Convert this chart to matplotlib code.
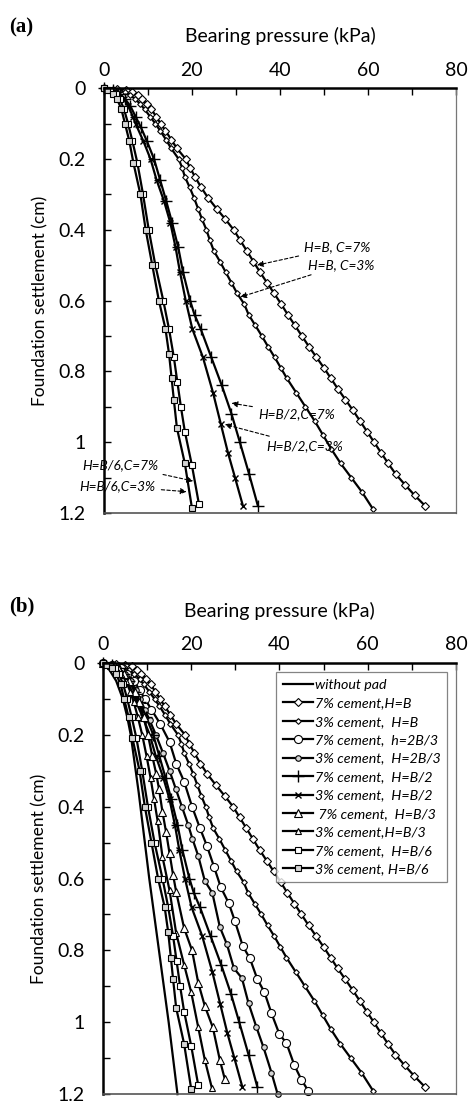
import matplotlib
matplotlib.use("Agg")
import matplotlib.pyplot as plt
from matplotlib.ticker import MultipleLocator

plt.rcParams['font.family'] = ['Lato', 'DejaVu Sans']

# settlement (cm) / bearing pressure (kPa)
s_d7 = [0, 0.003, 0.006, 0.01, 0.02, 0.03, 0.045, 0.06, 0.08, 0.1, 0.12, 0.145, 0.17, 0.2, 0.225,
        0.25, 0.28, 0.31, 0.34, 0.37, 0.4, 0.43, 0.46, 0.49, 0.52, 0.55, 0.58, 0.61, 0.64, 0.67, 0.7, 0.73,
        0.76, 0.79, 0.82, 0.85, 0.88, 0.91, 0.94, 0.97, 1.0, 1.03, 1.06, 1.09, 1.12, 1.15, 1.18]
p_d7 = [0, 3, 5, 6.5, 7.8, 8.6, 9.8, 10.8, 11.9, 12.9, 14.0, 15.3, 16.6, 18.6, 19.6,
        20.7, 22.1, 23.7, 25.6, 27.6, 29.5, 31.0, 32.5, 34.0, 35.5, 37.1, 38.7, 40.3, 41.8, 43.4, 45.0, 46.6,
        48.3, 50.0, 51.6, 53.2, 54.9, 56.6, 58.2, 59.8, 61.4, 63.0, 64.6, 66.3, 68.4, 70.6, 73.0]

s_d3 = [0, 0.003, 0.007, 0.012, 0.02, 0.03, 0.045, 0.06, 0.08, 0.1, 0.12, 0.145, 0.17, 0.2, 0.225, 0.25,
        0.28, 0.31, 0.34, 0.37, 0.4, 0.43, 0.46, 0.49, 0.52, 0.55, 0.58, 0.61, 0.64, 0.67, 0.7, 0.73, 0.76,
        0.79, 0.82, 0.86, 0.9, 0.94, 0.98, 1.02, 1.06, 1.1, 1.14, 1.19]
p_d3 = [0, 2, 3.5, 4.8, 6, 7.1, 8.3, 9.3, 10.5, 11.7, 12.8, 14.1, 15.3, 17.0, 17.8, 18.4,
        19.5, 20.5, 21.4, 22.3, 23.3, 24.1, 25.0, 26.4, 27.7, 29.0, 30.3, 31.9, 32.9, 34.4, 35.9, 37.3, 38.8,
        40.2, 41.6, 43.7, 45.8, 47.9, 49.8, 51.7, 53.8, 56.2, 58.6, 61.2]

s_c7 = [0, 0.005, 0.015, 0.03, 0.05, 0.075, 0.1, 0.13, 0.17, 0.22, 0.28, 0.33, 0.4, 0.46, 0.51, 0.568,
        0.624, 0.668, 0.718, 0.788, 0.822, 0.88, 0.916, 0.975, 1.033, 1.058, 1.12, 1.16, 1.19]
p_c7 = [0, 2, 4, 5.5, 7, 8.3, 9.5, 11, 13, 15.1, 16.6, 18.4, 20.2, 22, 23.6, 25.2,
        26.7, 28.5, 29.9, 31.7, 33.3, 35, 36.6, 38.2, 40, 41.6, 43.4, 45, 46.5]

s_c3 = [0, 0.005, 0.015, 0.03, 0.05, 0.075, 0.1, 0.13, 0.16, 0.2, 0.25, 0.3, 0.35, 0.4, 0.45, 0.49,
        0.537, 0.607, 0.64, 0.735, 0.783, 0.85, 0.877, 0.947, 1.014, 1.07, 1.14, 1.2]
p_c3 = [0, 1.8, 3.5, 5, 6.3, 7.4, 8.4, 9.5, 10.6, 12, 13.6, 15.1, 16.5, 17.9, 19.3, 20.3,
        21.6, 23.1, 24.8, 26.5, 28.1, 29.7, 31.5, 33, 34.8, 36.4, 38.2, 39.6]

s_p7 = [0, 0.005, 0.015, 0.03, 0.05, 0.08, 0.11, 0.15, 0.2, 0.26, 0.32, 0.38, 0.45, 0.52, 0.6, 0.64,
        0.68, 0.76, 0.84, 0.92, 1.0, 1.09, 1.18]
p_p7 = [0, 2, 3.6, 4.8, 6.0, 7.2, 8.4, 9.8, 11.4, 12.8, 14.2, 15.5, 16.9, 18.0, 19.6, 20.6,
        22.0, 24.4, 26.8, 29.0, 30.9, 33.0, 35.0]

s_x3 = [0, 0.005, 0.015, 0.03, 0.05, 0.08, 0.1, 0.15, 0.2, 0.26, 0.32, 0.38, 0.45, 0.52, 0.6, 0.68,
        0.76, 0.86, 0.95, 1.03, 1.1, 1.18]
p_x3 = [0, 1.8, 3.3, 4.5, 5.5, 6.6, 7.2, 9.0, 10.6, 12.0, 13.7, 15.1, 16.3, 17.3, 18.6, 20.1,
        22.5, 24.8, 26.6, 28.2, 29.8, 31.6]

s_t7 = [0, 0.005, 0.015, 0.03, 0.05, 0.08, 0.11, 0.15, 0.2, 0.26, 0.31, 0.35, 0.415, 0.47, 0.53, 0.59,
        0.637, 0.738, 0.8, 0.89, 0.955, 1.014, 1.105, 1.157]
p_t7 = [0, 1.8, 3.5, 4.8, 6, 7.2, 8.2, 9.2, 10.2, 11.2, 12.1, 12.7, 13.5, 14.3, 15.1, 15.9,
        16.6, 18.4, 20.2, 21.6, 23.1, 24.9, 26.5, 27.6]

s_t3 = [0, 0.005, 0.015, 0.03, 0.05, 0.08, 0.11, 0.15, 0.2, 0.26, 0.32, 0.38, 0.44, 0.54, 0.633,
        0.752, 0.84, 0.916, 1.014, 1.105, 1.183]
p_t3 = [0, 1.5, 3, 4.2, 5.2, 6.2, 7.0, 7.9, 8.9, 9.9, 10.8, 11.6, 12.4, 13.5, 15.1,
        16.6, 18.4, 20, 21.6, 23.1, 24.7]

s_s7 = [0, 0.005, 0.015, 0.03, 0.06, 0.1, 0.15, 0.21, 0.3, 0.4, 0.5, 0.6, 0.68, 0.76, 0.83, 0.9,
        0.97, 1.065, 1.175]
p_s7 = [0, 1.5, 2.8, 3.6, 4.6, 5.5, 6.5, 7.6, 8.9, 10.2, 11.7, 13.5, 14.8, 15.9, 16.7, 17.5,
        18.4, 20.0, 21.6]

s_s3 = [0, 0.005, 0.015, 0.03, 0.06, 0.1, 0.15, 0.21, 0.3, 0.4, 0.5, 0.6, 0.68, 0.75, 0.82, 0.88,
        0.96, 1.06, 1.185]
p_s3 = [0, 0.8, 2, 3, 4, 4.8, 5.8, 6.7, 8.3, 9.5, 11.0, 12.5, 14.0, 14.8, 15.4, 15.9,
        16.6, 18.4, 20.0]

s_np = [0, 0.02, 0.05, 0.1, 0.15, 0.2, 0.28, 0.36, 0.44, 0.52, 0.6, 0.7, 0.8, 0.9, 1.0, 1.1, 1.2]
p_np = [0, 1.5, 3.0, 4.5, 5.5, 6.3, 7.2, 8.1, 8.9, 9.7, 10.5, 11.6, 12.7, 13.8, 14.9, 15.9, 16.9]

labels_b = ['without pad', '7% cement,H=B', '3% cement,  H=B', '7% cement,  h=2B/3',
            '3% cement,  H=2B/3', '7% cement,  H=B/2', '3% cement,  H=B/2', ' 7% cement,  H=B/3',
            '3% cement,H=B/3', '7% cement,  H=B/6', '3% cement, H=B/6']

GREY = '#d4d4d4'
sty = {
    'np': dict(marker=None),
    'd7': dict(marker='D', ms=3.8, mfc='white', mec='black', mew=0.8),
    'd3': dict(marker='D', ms=2.9, mfc='white', mec='black', mew=0.8),
    'c7': dict(marker='o', ms=5.8, mfc='white', mec='black', mew=0.8),
    'c3': dict(marker='o', ms=4.0, mfc=GREY, mec='black', mew=0.8),
    'p7': dict(marker='+', ms=8, mec='black', mew=1.0),
    'x3': dict(marker='x', ms=5, mec='black', mew=1.0),
    't7': dict(marker='^', ms=5.8, mfc='white', mec='black', mew=0.8),
    't3': dict(marker='^', ms=4.4, mfc='white', mec='black', mew=0.8),
    's7': dict(marker='s', ms=4.3, mfc='white', mec='black', mew=0.8),
    's3': dict(marker='s', ms=4.5, mfc=GREY, mec='black', mew=0.8),
}
data = {
    'np': (p_np, s_np), 'd7': (p_d7, s_d7), 'd3': (p_d3, s_d3), 'c7': (p_c7, s_c7),
    'c3': (p_c3, s_c3), 'p7': (p_p7, s_p7), 'x3': (p_x3, s_x3), 't7': (p_t7, s_t7),
    't3': (p_t3, s_t3), 's7': (p_s7, s_s7), 's3': (p_s3, s_s3),
}
order_b = ['np', 'd7', 'd3', 'c7', 'c3', 'p7', 'x3', 't7', 't3', 's7', 's3']
order_a = ['d7', 'd3', 'p7', 'x3', 's7', 's3']


def setup_axes(ax):
    ax.set_xlim(0, 80)
    ax.set_ylim(1.2, 0)
    ax.xaxis.tick_top()
    ax.xaxis.set_label_position('top')
    ax.xaxis.set_major_locator(MultipleLocator(20))
    ax.xaxis.set_minor_locator(MultipleLocator(10))
    ax.yaxis.set_minor_locator(MultipleLocator(0.1))
    ax.set_yticks([0, 0.2, 0.4, 0.6, 0.8, 1.0, 1.2])
    ax.set_yticklabels(['0', '0.2', '0.4', '0.6', '0.8', '1', '1.2'])
    ax.tick_params(which='both', direction='in', length=5, width=1, labelsize=14, colors='black')
    ax.tick_params(axis='x', which='both', top=True, bottom=False, pad=7)
    ax.tick_params(axis='y', which='both', pad=13)
    ax.set_xlabel('Bearing pressure (kPa)', fontsize=14, labelpad=14)
    ax.set_ylabel('Foundation settlement (cm)', fontsize=12.5, labelpad=7)
    ax.spines['left'].set_linewidth(1.8)
    ax.spines['top'].set_linewidth(1.8)
    ax.spines['right'].set_linewidth(0.9)
    ax.spines['right'].set_color('#777777')
    ax.spines['bottom'].set_linewidth(1.2)
    ax.spines['bottom'].set_color('#555555')


fig = plt.figure(figsize=(4.7, 11.03), dpi=100)
ax1 = fig.add_axes([0.221, 0.535, 0.749, 0.385])
ax2 = fig.add_axes([0.219, 0.008, 0.751, 0.391])

for k in order_a:
    p, s = data[k]
    ax1.plot(p, s, color='black', lw=1.6, clip_on=False, **sty[k])
for k, lab in zip(order_b, labels_b):
    p, s = data[k]
    ax2.plot(p, s, color='black', lw=1.6, clip_on=False, label=lab, **sty[k])

setup_axes(ax1)
setup_axes(ax2)

fig.text(0.02, 0.975, '(a)', fontsize=15, fontweight='bold', family='Liberation Serif', va='center')
fig.text(0.02, 0.450, '(b)', fontsize=15, fontweight='bold', family='Liberation Serif', va='center')

# annotations, panel (a)
ann = [
    ('H=B, C=7%', (34.8, 0.50), (45.5, 0.45)),
    ('H=B, C=3%', (31.0, 0.59), (46.5, 0.50)),
    ('H=B/2,C=7%', (29.0, 0.89), (35.0, 0.92)),
    ('H=B/2,C=3%', (27.5, 0.95), (37.0, 1.01)),
    ('H=B/6,C=7%', (20.3, 1.11), (-5.0, 1.065)),
    ('H=B/6,C=3%', (18.8, 1.14), (-5.5, 1.125)),
]
for txt, xy, xytext in ann:
    ax1.annotate(txt, xy=xy, xytext=xytext, textcoords='data', fontsize=9.8, style='italic',
                 va='center', ha='left', annotation_clip=False,
                 arrowprops=dict(arrowstyle='-|>', linestyle=(0, (3, 2)), lw=0.8, color='black',
                                 mutation_scale=9, shrinkA=2, shrinkB=0))

leg = ax2.legend(loc='upper right', bbox_to_anchor=(0.975, 0.978), frameon=True,
                 fancybox=False, edgecolor='#666666', handlelength=2.1, labelspacing=0.45,
                 borderpad=0.45, handletextpad=0.15, borderaxespad=0.0,
                 prop={'style': 'italic', 'size': 10.3})
leg.get_frame().set_linewidth(0.9)

fig.savefig('out.png', dpi=100)
